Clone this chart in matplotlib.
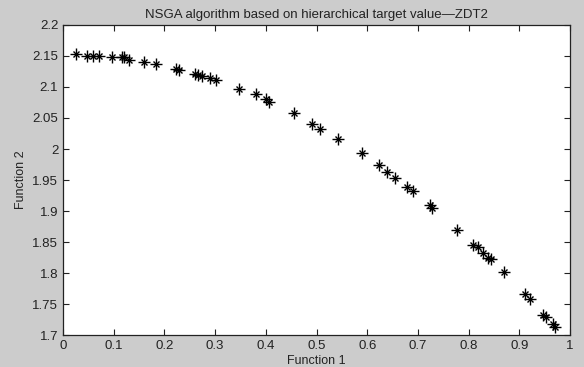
import numpy as np
import matplotlib.pyplot as plt

plt.rcParams['font.family'] = ['Liberation Sans', 'DejaVu Sans']

# Pareto front points
f1 = [0.025, 0.047, 0.060, 0.071, 0.096, 0.117, 0.121, 0.131, 0.160, 0.183,
      0.222, 0.229, 0.260, 0.267, 0.274, 0.290, 0.302, 0.348, 0.381, 0.400,
      0.407, 0.456, 0.492, 0.507, 0.542, 0.589, 0.623, 0.640, 0.654, 0.678,
      0.691, 0.724, 0.728, 0.778, 0.809, 0.818, 0.829, 0.839, 0.844, 0.870,
      0.911, 0.922, 0.947, 0.952, 0.966, 0.970]
f2 = [2.153, 2.150, 2.150, 2.150, 2.149, 2.149, 2.148, 2.1435, 2.140, 2.137,
      2.1295, 2.1274, 2.1215, 2.120, 2.118, 2.115, 2.111, 2.096, 2.088, 2.081,
      2.076, 2.058, 2.040, 2.033, 2.0166, 1.993, 1.974, 1.963, 1.954, 1.939,
      1.932, 1.909, 1.905, 1.870, 1.846, 1.842, 1.833, 1.825, 1.823, 1.801,
      1.766, 1.758, 1.732, 1.729, 1.718, 1.713]

xticks = np.arange(0, 1.01, 0.1)
yticks = np.arange(1.7, 2.201, 0.05)

fig = plt.figure(figsize=(5.84, 3.67), dpi=100, facecolor='#cccccc')
ax = fig.add_axes([0.108, 0.087, 0.868, 0.845])
# matlab style asterisk: a plus with an x on top
ax.plot(f1, f2, '+', color='black', markersize=8, markeredgewidth=1.0)
ax.plot(f1, f2, 'x', color='black', markersize=5, markeredgewidth=1.0)

ax.set_xlim(0, 1)
ax.set_ylim(1.7, 2.2)
ax.set_xticks(xticks)
ax.set_xticklabels(['%g' % round(t, 2) for t in xticks])
ax.set_yticks(yticks)
ax.set_yticklabels(['%g' % round(t, 2) for t in yticks])
ax.tick_params(direction='in', top=True, right=True, labelsize=9.5, length=4, colors='#222222')
for s in ax.spines.values():
    s.set_linewidth(0.9)
    s.set_color('#222222')

ax.set_xlabel('Function 1', fontsize=9, labelpad=2, color='#222222')
ax.set_ylabel('Function 2', fontsize=9, labelpad=4, color='#222222')
ax.set_title('NSGA algorithm based on hierarchical target value\u2014ZDT2', fontsize=9.5, pad=5, color='#222222')

fig.savefig('out.png', dpi=100, facecolor=fig.get_facecolor())
